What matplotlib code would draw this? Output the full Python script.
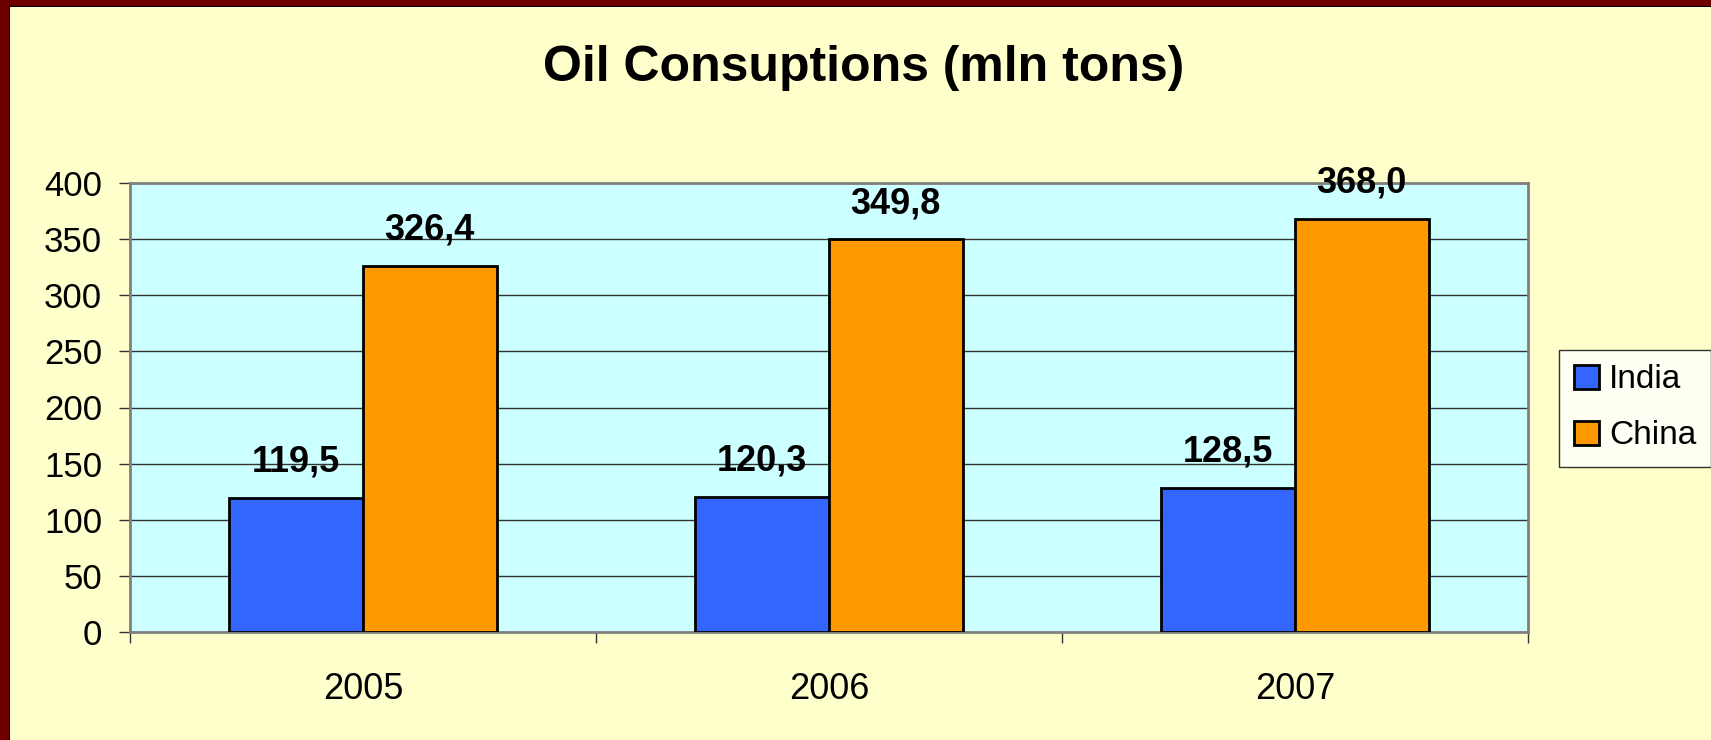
import matplotlib
matplotlib.use("Agg")
import matplotlib.pyplot as plt
import numpy as np
from matplotlib.patches import Rectangle

# Data
years = ["2005", "2006", "2007"]
india = [119.5, 120.3, 128.5]
china = [326.4, 349.8, 368.0]
y_ticks = [0, 50, 100, 150, 200, 250, 300, 350, 400]

plt.rcParams['font.family'] = ['Liberation Sans', 'DejaVu Sans']

W, H = 1711, 740
fig = plt.figure(figsize=(W / 100, H / 100), dpi=100, facecolor='#FFFFCC')

# dark red frame (top and left)
fig.patches.append(Rectangle((0, 1 - 7 / H), 1, 7 / H, transform=fig.transFigure,
                             facecolor='#000000', edgecolor='none', zorder=0))
fig.patches.append(Rectangle((0, 1 - 6 / H), 1, 6 / H, transform=fig.transFigure,
                             facecolor='#6E0000', edgecolor='none', zorder=0))
fig.patches.append(Rectangle((0, 0), 10 / W, 1, transform=fig.transFigure,
                             facecolor='#000000', edgecolor='none', zorder=0))
fig.patches.append(Rectangle((0, 0), 9 / W, 1, transform=fig.transFigure,
                             facecolor='#6E0000', edgecolor='none', zorder=0))

ax = fig.add_axes([130 / W, 1 - 632 / H, (1528 - 130) / W, (632 - 183) / H])
ax.set_facecolor('#CCFFFF')

x = np.arange(len(years))
w = 0.287
b1 = ax.bar(x - w / 2, india, w, color='#3366FF', edgecolor='black', linewidth=2, label='India', zorder=3)
b2 = ax.bar(x + w / 2, china, w, color='#FF9900', edgecolor='black', linewidth=2, label='China', zorder=3)

# value labels
for bars, vals in [(b1, india), (b2, china)]:
    for r, v in zip(bars, vals):
        ax.annotate(f"{v:.1f}".replace('.', ','), (r.get_x() + r.get_width() / 2, v),
                    xytext=(0, 13), textcoords='offset points', ha='center', va='bottom',
                    fontsize=26, fontweight='bold', zorder=4)

ax.set_xlim(-0.5, 2.5)
ax.set_ylim(0, 400)
ax.set_yticks(y_ticks)
ax.yaxis.grid(True, color='#333333', linewidth=1)
ax.set_axisbelow(True)
ax.tick_params(axis='y', labelsize=25, length=8, width=1, color='#333333', pad=12)

ax.set_xticks(x)
ax.set_xticklabels(years)
ax.set_xticks([-0.5, 0.5, 1.5, 2.5], minor=True)
ax.tick_params(axis='x', which='major', length=0, labelsize=26, pad=29)
ax.tick_params(axis='x', which='minor', length=8, width=1, color='#333333')

for s in ax.spines.values():
    s.set_color('#808080')
    s.set_linewidth(2)

fig.text(0.505, 1 - 68 / H, "Oil Consuptions (mln tons)", ha='center', va='center',
         fontsize=36, fontweight='bold')

leg = ax.legend(loc='center left', bbox_to_anchor=(1559 / W, 1 - 408 / H),
                bbox_transform=fig.transFigure, fontsize=24, frameon=True, fancybox=False,
                handlelength=0.75, handleheight=0.75, handletextpad=0.3,
                labelspacing=0.75, borderpad=0.45, borderaxespad=0)
leg.get_frame().set_edgecolor('black')
leg.get_frame().set_facecolor('white')
leg.get_frame().set_linewidth(1)

plt.savefig("out.png", dpi=100, facecolor=fig.get_facecolor())
